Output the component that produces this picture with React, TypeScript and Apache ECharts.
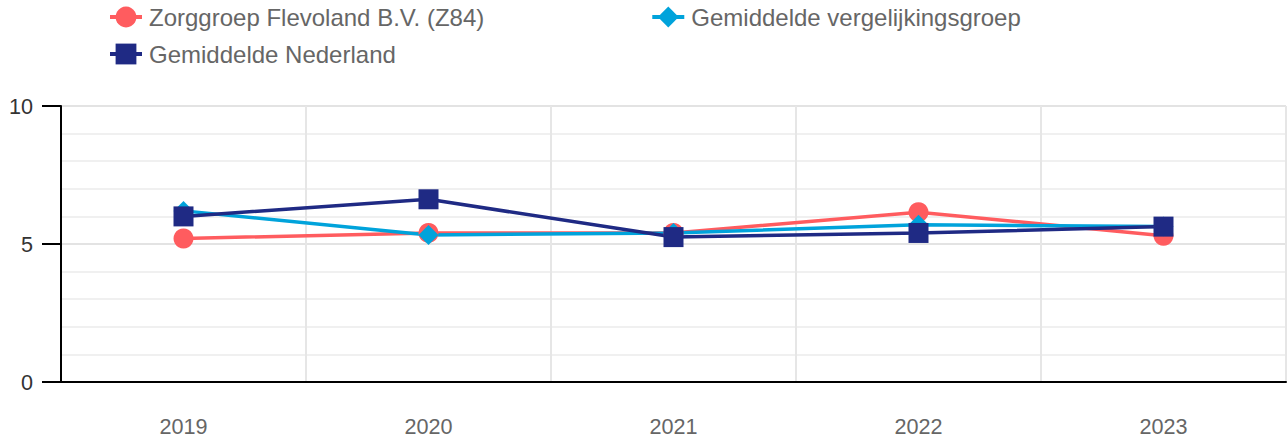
import React, { useEffect, useRef } from "react";
import * as echarts from "echarts";

const categories = ["2019", "2020", "2021", "2022", "2023"];
const zorggroep = [5.2, 5.4, 5.4, 6.15, 5.3];
const vergelijking = [6.2, 5.33, 5.4, 5.7, 5.63];
const nederland = [6.0, 6.62, 5.25, 5.4, 5.63];
const names = ["Zorggroep Flevoland B.V. (Z84)", "Gemiddelde vergelijkingsgroep", "Gemiddelde Nederland"];
const colors = ["#FF5C5F", "#00A3DB", "#1F2A84"];

export default function App() {
  const ref = useRef<HTMLDivElement>(null);
  useEffect(() => {
    const chart = echarts.init(ref.current!, null, { renderer: "svg" });
    const font = "Arial, 'Liberation Sans', sans-serif";
    const legendCommon = {
      left: 103,
      itemWidth: 32,
      itemHeight: 26,
      lineStyle: { width: 4 },
      textStyle: { fontSize: 24, color: "#666", fontFamily: font, padding: [0, 0, 0, 2] },
    };
    chart.setOption({
      animation: false,
      textStyle: { fontFamily: font },
      legend: [
        { ...legendCommon, data: [names[0], names[1]], top: 0, itemGap: 166 },
        { ...legendCommon, data: [names[2]], top: 37 },
      ],
      grid: { left: 61, right: 2, top: 106, bottom: 64, containLabel: false },
      xAxis: {
        type: "category",
        data: categories,
        boundaryGap: true,
        axisLine: { lineStyle: { color: "#000", width: 2 } },
        axisTick: { show: false },
        axisLabel: { color: "#666", fontSize: 21.6, margin: 33, fontFamily: font },
        splitLine: { show: true, lineStyle: { color: "#e6e6e6", width: 2 } },
      },
      yAxis: {
        type: "value",
        min: 0,
        max: 10,
        interval: 5,
        axisLine: { show: true, lineStyle: { color: "#000", width: 2 } },
        axisTick: { show: true, length: 19, lineStyle: { color: "#000", width: 2 } },
        axisLabel: { color: "#333", fontSize: 21.6, margin: 28, fontFamily: font },
        splitLine: { show: true, lineStyle: { color: "#e3e3e3", width: 2 } },
        minorTick: { show: false, splitNumber: 5 },
        minorSplitLine: { show: true, lineStyle: { color: "#f0f0f0", width: 2 } },
      },
      series: [
        {
          name: names[0],
          type: "line",
          data: zorggroep,
          symbol: "circle",
          symbolSize: 20,
          itemStyle: { color: colors[0] },
          lineStyle: { width: 3.5, color: colors[0] },
        },
        {
          name: names[1],
          type: "line",
          data: vergelijking,
          symbol: "diamond",
          symbolSize: 20,
          itemStyle: { color: colors[1] },
          lineStyle: { width: 3.5, color: colors[1] },
        },
        {
          name: names[2],
          type: "line",
          data: nederland,
          symbol: "rect",
          symbolSize: 20,
          itemStyle: { color: colors[2] },
          lineStyle: { width: 3.5, color: colors[2] },
        },
      ],
    });
    return () => chart.dispose();
  }, []);
  return <div ref={ref} style={{ width: 1288, height: 446, position: "absolute", left: 0, top: 0 }} />;
}
